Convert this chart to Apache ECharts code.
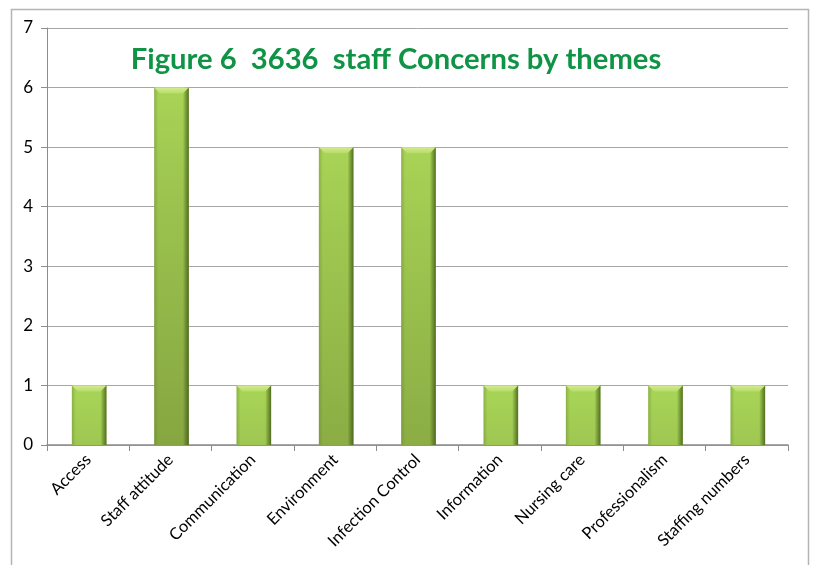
<!DOCTYPE html>
<html>
<head>
<meta charset="utf-8">
<script src="https://cdn.jsdelivr.net/npm/echarts@6/dist/echarts.min.js"></script>
<style>
  html, body { margin: 0; padding: 0; background: #fff; }
  #chart { width: 814px; height: 565px; }
</style>
</head>
<body>
<div id="chart"></div>
<script>
// Staff concerns grouped by theme
const categories = ['Access', 'Staff attitude', 'Communication', 'Environment', 'Infection Control',
  'Information', 'Nursing care', 'Professionalism', 'Staffing numbers'];
const counts = [1, 6, 1, 5, 5, 1, 1, 1, 1];
const yTicks = { min: 0, max: 7, interval: 1 };
const titleText = 'Figure 6  3636  staff Concerns by themes';

const FONT = 'Lato, "Open Sans", sans-serif';

function mix(a, b, t) {
  const pa = a.match(/\w\w/g).map(h => parseInt(h, 16));
  const pb = b.match(/\w\w/g).map(h => parseInt(h, 16));
  return 'rgb(' + pa.map((v, i) => Math.round(v + (pb[i] - v) * t)).join(',') + ')';
}

// Bevelled bar drawn from the axis coordinates of each value
function renderBar(params, api) {
  const idx = api.value(0);
  const val = api.value(1);
  const top = api.coord([idx, val]);
  const base = api.coord([idx, 0]);
  const w = api.size([1, 0])[0] * 0.42;
  const x0 = top[0] - w / 2 + 1, x1 = top[0] + w / 2 + 1;
  const y0 = top[1], y1 = base[1];
  const h = y1 - y0;
  const depth = Math.min(1, h / 360);
  const bottomColor = mix('a3cd55', '86a641', depth);
  const bev = 6;
  return {
    type: 'group',
    children: [
      {
        type: 'rect',
        shape: { x: x0, y: y0, width: w, height: h },
        style: {
          fill: new echarts.graphic.LinearGradient(0, 0, 0, 1, [
            { offset: 0, color: '#a8d456' },
            { offset: 0.25, color: mix('a8d456', '86a641', depth * 0.3) },
            { offset: 1, color: bottomColor }
          ])
        }
      },
      {
        type: 'rect',
        shape: { x: x0, y: y0, width: 4, height: h },
        style: {
          fill: new echarts.graphic.LinearGradient(0, 0, 1, 0, [
            { offset: 0, color: 'rgba(90,115,40,0.35)' },
            { offset: 1, color: 'rgba(90,115,40,0)' }
          ])
        }
      },
      {
        type: 'rect',
        shape: { x: x1 - 6, y: y0, width: 6, height: h },
        style: {
          fill: new echarts.graphic.LinearGradient(0, 0, 1, 0, [
            { offset: 0, color: 'rgba(70,95,25,0)' },
            { offset: 0.5, color: 'rgba(70,95,25,0.45)' },
            { offset: 1, color: 'rgba(60,85,20,0.8)' }
          ])
        }
      },
      {
        type: 'polygon',
        shape: { points: [[x0, y0], [x1, y0], [x1 - bev, y0 + bev], [x0 + bev, y0 + bev]] },
        style: {
          fill: new echarts.graphic.LinearGradient(0, 0, 0, 1, [
            { offset: 0, color: '#d4ec8e' },
            { offset: 1, color: '#b6dc6a' }
          ])
        }
      }
    ]
  };
}

const chart = echarts.init(document.getElementById('chart'), null, { renderer: 'canvas' });
chart.setOption({
  animation: false,
  backgroundColor: '#ffffff',
  graphic: [
    {
      type: 'rect',
      shape: { x: 11.5, y: 9.5, width: 797, height: 620 },
      style: { fill: 'none', stroke: '#b4b4b4', lineWidth: 1.5 },
      silent: true
    }
  ],
  title: {
    text: titleText,
    left: 391,
    top: 40,
    textAlign: 'center',
    textStyle: { fontFamily: FONT, fontWeight: 'bold', fontSize: 29.2, color: '#0f9446' }
  },
  grid: { left: 47, right: 26, top: 28, bottom: 120, containLabel: false },
  xAxis: {
    type: 'category',
    data: categories,
    boundaryGap: true,
    axisLine: { lineStyle: { color: '#8c8c8c', width: 1.5 } },
    axisTick: { show: true, length: 6, lineStyle: { color: '#8c8c8c' } },
    axisLabel: {
      interval: 0,
      rotate: 45,
      margin: 12,
      fontFamily: FONT,
      fontSize: 16.5,
      color: '#000'
    }
  },
  yAxis: {
    type: 'value',
    min: yTicks.min,
    max: yTicks.max,
    interval: yTicks.interval,
    axisLine: { show: true, lineStyle: { color: '#8c8c8c', width: 1 } },
    axisTick: { show: true, length: 6, lineStyle: { color: '#8c8c8c' } },
    axisLabel: { fontFamily: FONT, fontSize: 17, color: '#000', margin: 14 },
    splitLine: { lineStyle: { color: '#a6a6a6', width: 1 } }
  },
  series: [
    {
      type: 'custom',
      renderItem: renderBar,
      encode: { x: 0, y: 1 },
      data: counts.map((v, i) => [i, v])
    }
  ]
});
</script>
</body>
</html>
